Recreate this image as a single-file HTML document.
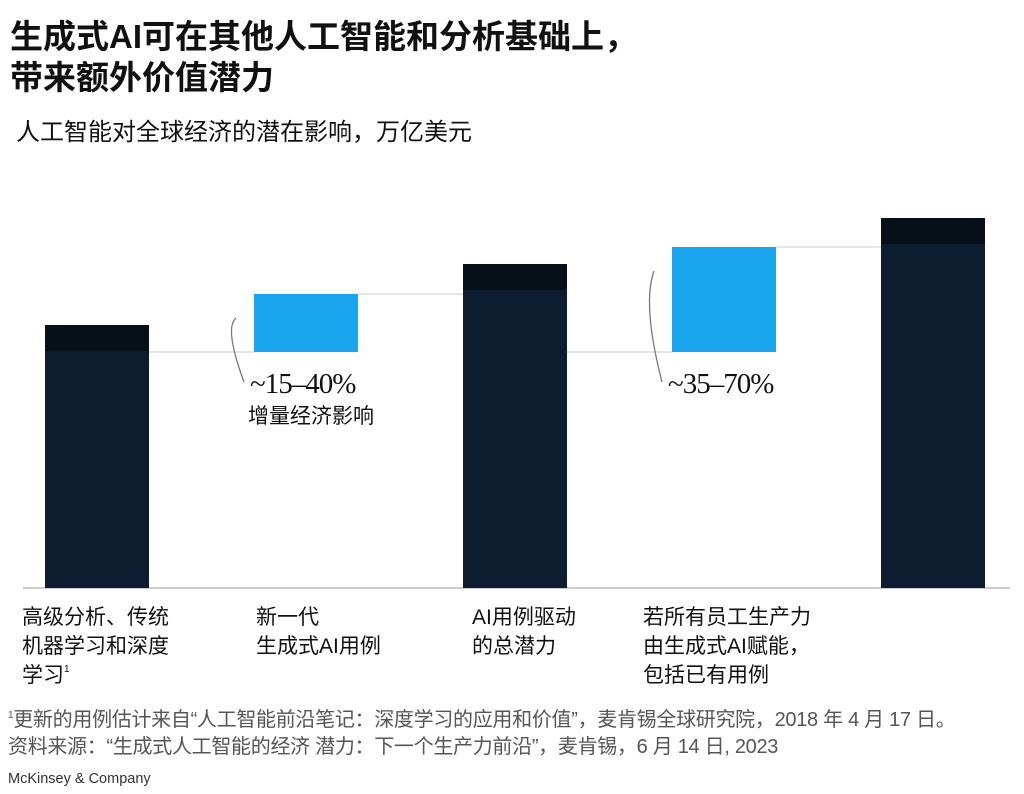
<!DOCTYPE html>
<html><head><meta charset="utf-8"><style>
body{margin:0;width:1024px;height:794px;background:#fff;font-family:"Liberation Sans","Noto Sans CJK SC",sans-serif;color:#111;overflow:hidden;position:relative}
.t{position:absolute;margin:0}
.sup{font-size:10px;vertical-align:top;line-height:10px;position:relative;top:4px}
</style></head><body>
<div class="t" style="left:10px;top:16px;font-size:33px;font-weight:bold;line-height:41px">生成式AI可在其他人工智能和分析基础上，<br>带来额外价值潜力</div>
<div class="t" style="left:16px;top:117px;font-size:24px;line-height:32px">人工智能对全球经济的潜在影响，万亿美元</div>
<svg id="chart" width="1024" height="794" style="position:absolute;left:0;top:0"></svg>
<div class="t" style="left:22px;top:603px;font-size:21px;line-height:29px">高级分析、传统<br>机器学习和深度<br>学习<span class="sup">1</span></div>
<div class="t" style="left:256px;top:603px;font-size:21px;line-height:29px">新一代<br>生成式AI用例</div>
<div class="t" style="left:472px;top:603px;font-size:21px;line-height:29px">AI用例驱动<br>的总潜力</div>
<div class="t" style="left:643px;top:603px;font-size:21px;line-height:29px">若所有员工生产力<br>由生成式AI赋能，<br>包括已有用例</div>
<div class="t" style="left:8px;top:707px;font-size:20px;line-height:27px;color:#555;white-space:nowrap;letter-spacing:-0.3px"><span class="sup">1</span>更新的用例估计来自“人工智能前沿笔记：深度学习的应用和价值”，麦肯锡全球研究院，2018 年 4 月 17 日。<br>资料来源：“生成式人工智能的经济 潜力：下一个生产力前沿”，麦肯锡，6 月 14 日, 2023</div>
<div class="t" style="left:8px;top:771px;font-size:14.5px;color:#333">McKinsey &amp; Company</div>
<script>
const categories=["analytics","genai","total","productivity","overall"];
const lows=[0,23.6,0,23.6,0];
const highs=[26.3,29.4,32.4,34.1,37.0];
const kinds=["base","delta","base","delta","base"];
const pctLabels=["","~15–40%","","~35–70%",""];
const subLabels=["","增量经济影响","","",""];
const NS="http://www.w3.org/2000/svg";
const svg=document.getElementById('chart');
const y=v=>588-v*10;
const x=i=>45+i*209;
const bw=104;
function mk(t,a){const e=document.createElementNS(NS,t);for(const k in a)e.setAttribute(k,a[k]);svg.appendChild(e);return e;}
// connector lines: delta bottoms from previous bar, delta tops to next bar
for(let i=1;i<categories.length;i++){
  if(kinds[i]==='delta'){
    const l=mk('line',{x1:x(i-1)+bw,x2:x(i),y1:y(lows[i]),y2:y(lows[i]),stroke:'#ddd','stroke-width':1.5});
    
    
    if(i===categories.length-2||i+1<categories.length){
      const l2=mk('line',{x1:x(i)+bw,x2:x(i+1),y1:y(highs[i]),y2:y(highs[i]),stroke:'#ddd','stroke-width':1.5});
      
      
    }
  }
}
const ax=mk('line',{x1:23,x2:1010,y1:588,y2:588,stroke:'#ccc','stroke-width':2});


categories.forEach((c,i)=>{
  const top=y(highs[i]),bot=y(lows[i]);
  const r=mk('rect',{x:x(i),y:top,width:bw,height:bot-top,fill:kinds[i]==='base'?'#0b1d2e':'#1aa6ee'});
  
  
  if(kinds[i]==='base'){
    const b=mk('rect',{x:x(i),y:top,width:bw,height:26,fill:'#070f18'});
    
    
  }else{
    const mid=(top+bot)/2;
    const p=mk('path',{d:`M${x(i)-18},${top+24} Q${x(i)-30},${mid+5} ${x(i)-10},${bot+30}`,fill:'none',stroke:'#777','stroke-width':1.3});
    
    
    const t=mk('text',{x:x(i)-4,y:bot+41,'font-size':29,'font-family':'Liberation Serif,serif',fill:'#111','letter-spacing':'-1'});
    t.textContent=pctLabels[i];
    
    
    if(subLabels[i]){
      const s=mk('text',{x:x(i)-6,y:bot+71,'font-size':21,fill:'#111'});
      s.textContent=subLabels[i];
      
      
    }
  }
});
</script>
</body></html>
